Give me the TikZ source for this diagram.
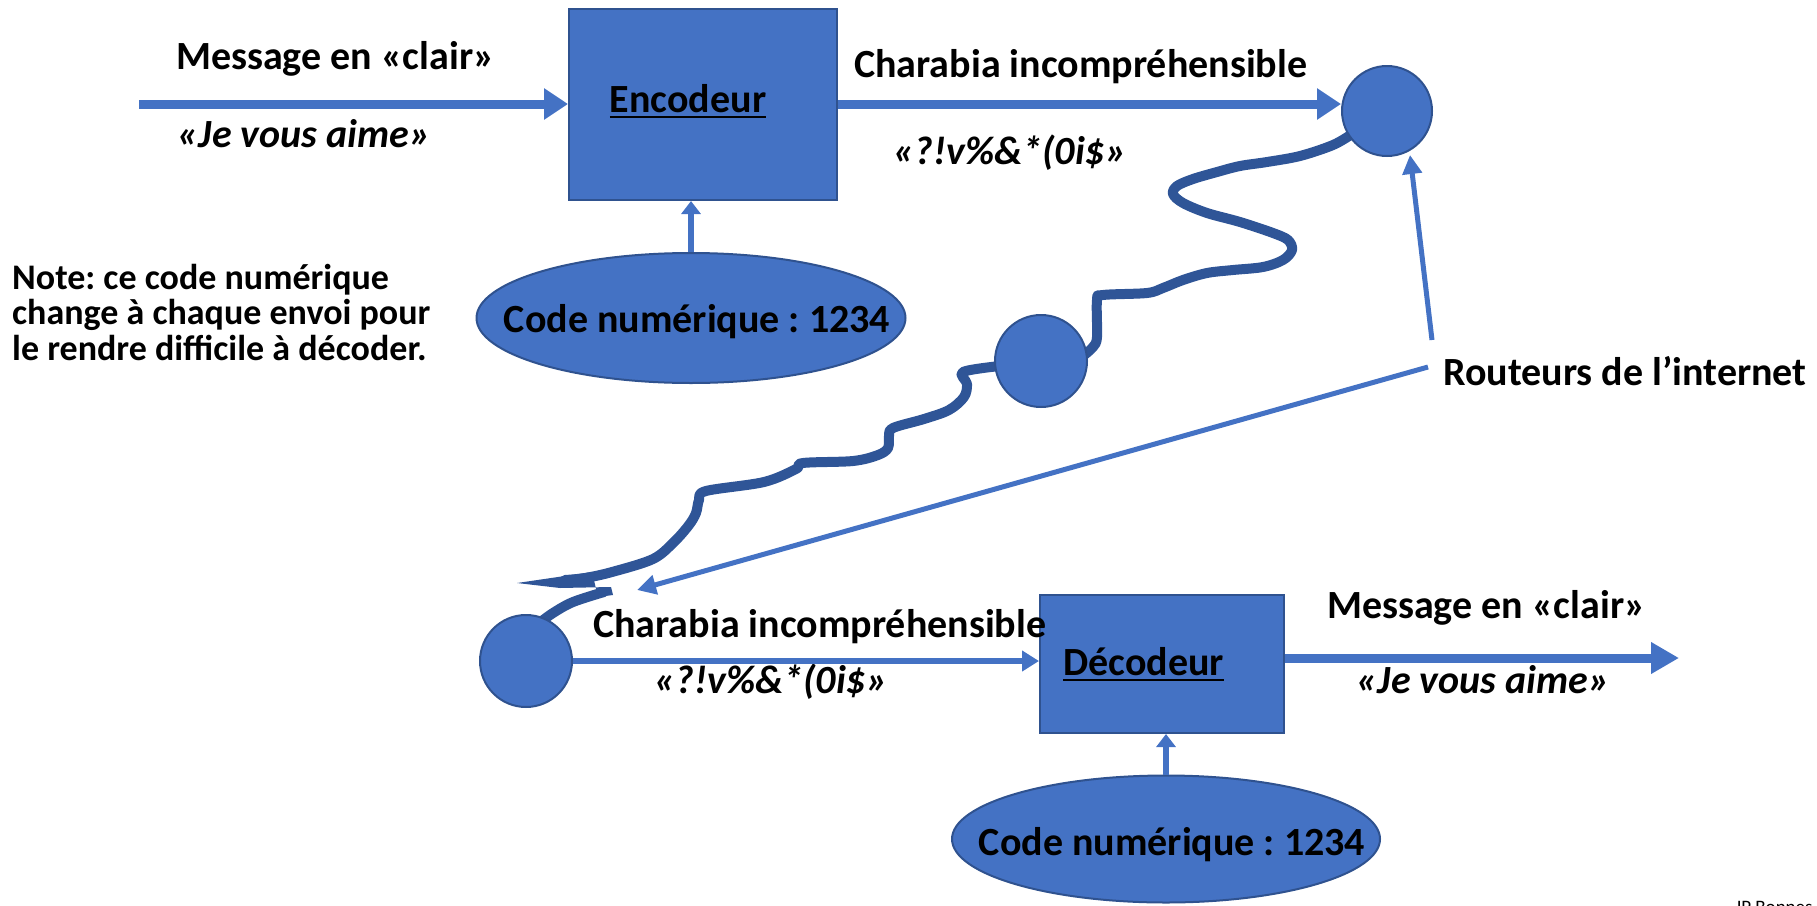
\documentclass[tikz,border=0pt]{standalone}
\usepackage{fontspec}
\setmainfont{Carlito}
\usetikzlibrary{arrows.meta,shapes.geometric}

\definecolor{shapefill}{HTML}{4472C4}
\definecolor{shapeedge}{HTML}{2F528F}
\definecolor{wire}{HTML}{2F5597}

% underlined label with a fixed rule below the baseline
\newsavebox{\ulinebox}
\newcommand{\ultext}[1]{\sbox{\ulinebox}{#1}\rlap{\rule[-6pt]{\wd\ulinebox}{2.5pt}}\usebox{\ulinebox}}

\tikzset{
  blockshape/.style={draw=shapeedge, fill=shapefill, line width=2pt, inner sep=0pt},
  lab/.style={inner sep=0pt, anchor=base west, font=\fontsize{40}{48}\selectfont\bfseries},
  notelab/.style={inner sep=0pt, anchor=base west, font=\fontsize{36}{44}\selectfont\bfseries},
  mainarrow/.style={draw=shapefill, line width=9pt, -{Triangle[length=24pt,width=30pt]}},
  exitarrow/.style={draw=shapefill, line width=9pt, -{Triangle[length=28pt,width=30pt]}},
  keyarrow/.style={draw=shapefill, line width=6pt, -{Triangle[length=13pt,width=19pt]}},
  linkarrow/.style={draw=shapefill, line width=6pt, -{Triangle[length=17pt,width=20pt]}},
  routearrow/.style={draw=shapefill, line width=5pt, -{Triangle[length=19pt,width=19pt]}},
  wavy/.style={draw=wire, line width=10pt, line join=round, line cap=round},
}

\begin{document}
\frenchspacing
\begin{tikzpicture}[x=1pt, y=-1pt]
\useasboundingbox (0,0) rectangle (1817,905);

% wandering path through the routers
\draw[wavy] plot[smooth, tension=0.55] coordinates {
  (1352,134) (1333,145) (1300,156) (1267,162) (1240,166) (1217,172) (1193,179)
  (1177,186) (1173,194) (1183,203) (1207,213) (1240,222) (1273,233) (1288,240)
  (1292,250) (1283,260) (1263,267) (1233,270) (1207,273) (1183,280) (1163,288)
  (1147,293) (1103,295) (1097,300) (1097,337) (1093,347) (1083,356)};
\draw[wavy] plot[smooth, tension=0.55] coordinates {
  (1000,366) (963,372) (967,384) (964,397) (949,410) (924,419) (893,428)
  (889,436) (888,448) (878,455) (853,461) (803,463) (796,469) (764,482)
  (706,491) (699,500) (696,513) (689,525) (674,542) (653,559) (612,572)
  (585,578) (565,580)};
\fill[wire] (592,572) -- (517,583) -- (560,588) -- (611,587) -- (613,595) -- (598,597) -- cycle;
\draw[wavy] plot[smooth, tension=0.55] coordinates {
  (604,592) (573,602) (553,613) (538,624)};

% blocks
\node[blockshape, minimum width=268pt, minimum height=191pt] (enc) at (703,104.5) {};
\node[blockshape, minimum width=244pt, minimum height=138pt] (dec) at (1162,664) {};
\node[blockshape, ellipse, minimum width=429pt, minimum height=130pt] (ell1) at (691,318) {};
\node[blockshape, ellipse, minimum width=428pt, minimum height=127pt] (ell2) at (1166,839) {};
\node[blockshape, circle, minimum size=90pt] (c1) at (1387,111) {};
\node[blockshape, circle, minimum size=92pt] (c2) at (1041,361) {};
\node[blockshape, circle, minimum size=92pt] (c3) at (526,661) {};

% texts
\node[lab] (msg1) at (176,69) {Message en «clair»};
\node[lab] (love1) at (177,147) {\itshape «Je vous aime»};
\node[lab] (gar1) at (854,77) {Charabia incompréhensible};
\node[lab] (gib1) at (893,164) {\itshape «?!v\%\&*(0i\$»};
\node[lab, anchor=base] (enclab) at (688,112) {\ultext{Encodeur}};
\node[lab, anchor=base] (code1) at (697,332) {Code numérique : 1234};
\node[notelab] (note1) at (12,289) {Note: ce code numérique};
\node[notelab] (note2) at (12,324.5) {change à chaque envoi pour};
\node[notelab] (note3) at (12,360) {le rendre difficile à décoder.};
\node[lab] (rout) at (1443,385) {Routeurs de l’internet};
\node[lab] (gar2) at (593,637) {Charabia incompréhensible};
\node[lab] (gib2) at (654,693) {\itshape «?!v\%\&*(0i\$»};
\node[lab, anchor=base] (declab) at (1143.5,675) {\ultext{Décodeur}};
\node[lab] (msg2) at (1327,618) {Message en «clair»};
\node[lab] (love2) at (1356,693) {\itshape «Je vous aime»};
\node[lab, anchor=base] (code2) at (1172,855) {Code numérique : 1234};
\node[inner sep=0pt, anchor=base west, font=\fontsize{19}{23}\selectfont] (sig) at (1735,913) {JP Bonnes};

% connectors
\coordinate (inStart) at (139,104);
\coordinate (outEnd) at (1679,658);
\coordinate (r1s) at (1432,340);
\coordinate (r1e) at (1410,155);
\coordinate (r2s) at (1428,367);
\coordinate (r2e) at (637,590);

\draw[mainarrow] (inStart) -- (inStart -| enc.west);
\draw[mainarrow] (enc.east |- inStart) -- (inStart -| c1.west);
\draw[keyarrow] (ell1.north) -- (ell1.north |- enc.south);
\draw[keyarrow] (ell2.north) -- (ell2.north |- dec.south);
\draw[linkarrow] (c3.east) -- (c3.east -| dec.west);
\draw[exitarrow] (dec.east |- outEnd) -- (outEnd);
\draw[routearrow] (r1s) -- (r1e);
\draw[routearrow] (r2s) -- (r2e);
\end{tikzpicture}
\end{document}
